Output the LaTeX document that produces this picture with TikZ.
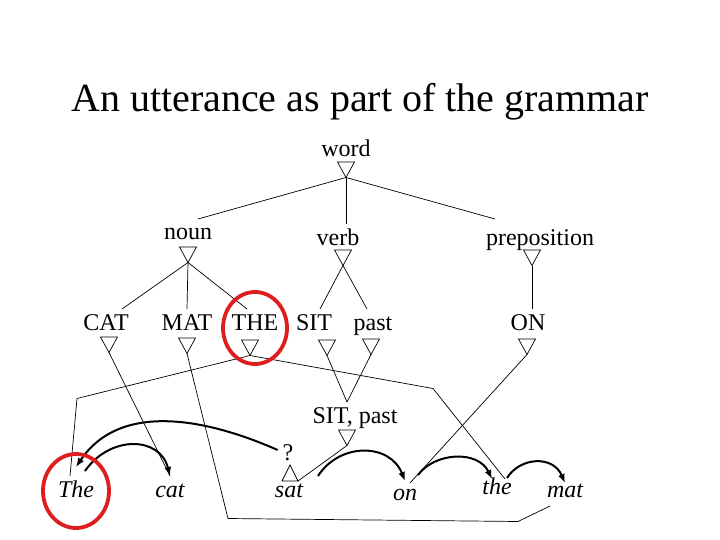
\documentclass[tikz,border=0pt]{standalone}
\usepackage{fontspec}
\setmainfont{Liberation Serif}
\usetikzlibrary{arrows.meta}
\definecolor{ringred}{RGB}{222,30,30}

\begin{document}
\begin{tikzpicture}[
  x=1pt, y=-1pt,
  headline/.style={
    font=\fontsize{40}{48}\selectfont, anchor=base
  },
  lab/.style={
    font=\fontsize{24}{28}\selectfont, anchor=base,
    inner sep=1pt, outer sep=4pt, text height=16pt, text depth=4pt
  },
  tok/.style={
    lab, font=\fontsize{24}{28}\selectfont\itshape
  },
  link/.style={line width=0.7pt},
  seq/.style={line width=2pt, -{Latex[length=9pt,width=7pt]}},
  ring/.style={draw=ringred, line width=3.8pt},
  isa/.pic={
    \draw[link] (-8.5,0) -- (8.5,0) -- (0,15.5) -- cycle;
    \coordinate (-tip) at (0,15.5);
  },
  isaup/.pic={
    \draw[link] (-8,0) -- (8,0) -- (0,-16) -- cycle;
    \coordinate (-tip) at (0,-16);
    \coordinate (-right) at (8,0);
  }
  ]
  \useasboundingbox (0,0) rectangle (720,540);

  \node[headline] (title) at (360,112) {An utterance as part of the grammar};

  % categories
  \node[lab] (word) at (346,157) {word};
  \pic (w) at (346,162) {isa};
  \node[lab] (noun) at (188,240) {noun};
  \pic (n) at (188,247) {isa};
  \node[lab] (verb) at (338,245) {verb};
  \pic (v) at (343,250) {isa};
  \node[lab] (prep) at (540,245) {preposition};
  \pic (p) at (532,250) {isa};

  % lexemes
  \node[lab] (CAT) at (106,330) {CAT};
  \pic (C) at (109,337) {isa};
  \node[lab] (MAT) at (187,330) {MAT};
  \pic (M) at (187,338) {isa};
  \node[lab] (THE) at (255,330) {THE};
  \pic (T) at (250,340) {isa};
  \node[lab] (SIT) at (314,330) {SIT};
  \pic (S) at (327,340) {isa};
  \node[lab] (past) at (373,330) {past};
  \pic (P) at (371,339) {isa};
  \node[lab] (ON) at (528,330) {ON};
  \pic (O) at (527,339) {isa};

  \node[lab] (sitpast) at (355,423) {SIT, past};
  \pic (sp) at (347,430) {isa};

  \node[lab] (q) at (288,460) {?};
  \pic (qt) at (290,481) {isaup};

  % tokens
  \node[tok] (The) at (76,497) {The};
  \node[tok] (cat) at (170,497) {cat};
  \node[tok] (sat) at (289,497) {sat};
  \node[tok] (on) at (405,500) {on};
  \node[tok] (the) at (497,494) {the};
  \node[tok] (mat) at (565,497) {mat};

  % isa links
  \draw[link] (w-tip) -- ([xshift=10pt]noun.north);
  \draw[link] (w-tip) -- (w-tip |- verb.north);
  \draw[link] (w-tip) -- ([xshift=-45pt,yshift=5pt]prep.north);
  \draw[link] (n-tip) -- ([xshift=16pt]CAT.north);
  \draw[link] (n-tip) -- (MAT.north);
  \draw[link] (n-tip) -- ([xshift=-8pt]THE.north);
  \draw[link] (v-tip) -- ([xshift=6pt]SIT.north);
  \draw[link] (v-tip) -- ([xshift=-6pt]past.north);
  \draw[link] (p-tip) -- (p-tip |- ON.north);
  \draw[link] (S-tip) -- ([xshift=-8pt]sitpast.north);
  \draw[link] (P-tip) -- ([xshift=-8pt]sitpast.north);
  \draw[link] (sp-tip) -- (qt-right);

  % lexeme to token
  \draw[link] (C-tip) -- (cat.north);
  \draw[link] (M-tip) -- ++(41,165) -- ++(290,3) -- ([xshift=8pt]mat.south west);
  \draw[link] (T-tip) -- ++(-173,43) -- ([xshift=-6pt]The.north);
  \draw[link] (T-tip) -- ++(183,33) -- ([xshift=8pt,yshift=-6pt]the.north);
  \draw[link] (O-tip) -- ([xshift=5pt,yshift=-4pt]on.north);

  % word order
  \draw[seq] ([xshift=9pt,yshift=5pt]The.north) .. controls +(25,-36) and +(-10,-40) .. (cat.north);
  \draw[seq] ([yshift=4pt]q.west) .. controls +(-68,-30) and +(45,-67) .. ([yshift=9pt]The.north);
  \draw[seq] ([xshift=29pt]sat.north) .. controls +(22,-34) and +(-15,-38) .. ([yshift=-2pt]on.north);
  \draw[seq] ([xshift=13pt,yshift=4pt]on.north) .. controls +(17,-23) and +(-14,-29) .. ([xshift=-5pt,yshift=-6pt]the.north);
  \draw[seq] ([xshift=10pt,yshift=-5pt]the.north) .. controls +(13,-21) and +(-12,-28) .. ([yshift=-7pt]mat.north);

  % highlights
  \draw[ring] ([yshift=-4pt]THE.center) ellipse [x radius=32, y radius=36];
  \draw[ring] (The.center) ellipse [x radius=33, y radius=37];
\end{tikzpicture}
\end{document}
